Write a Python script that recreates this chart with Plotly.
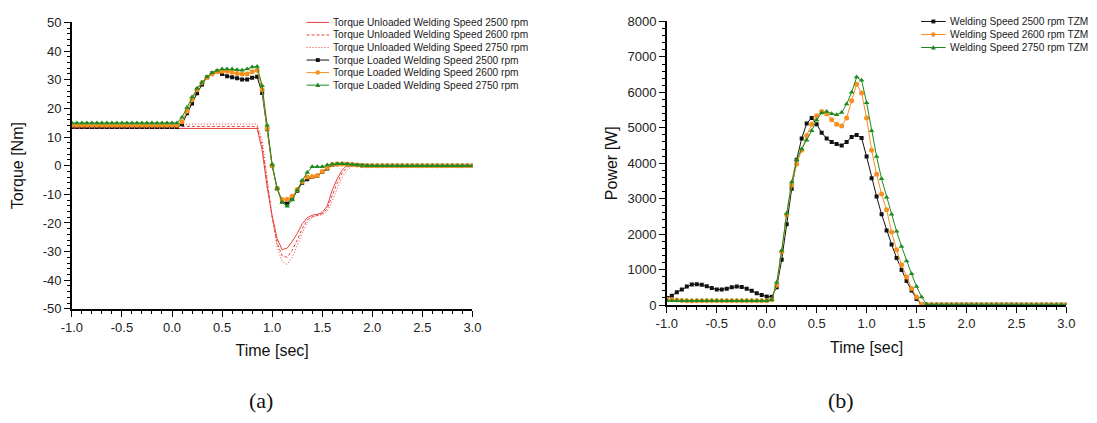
import plotly.graph_objects as go

W, H = 1097, 423

# Time samples (sec), 0.05 s spacing from -1.0 to 3.0
time_s = [round(-1.0 + 0.05 * i, 2) for i in range(81)]

# ---- (a) Torque [Nm] ----
torque_unloaded_2500 = [
    13.0, 13.0, 13.0, 13.0, 13.0, 13.0, 13.0, 13.0, 13.0, 13.0,
    13.0, 13.0, 13.0, 13.0, 13.0, 13.0, 13.0, 13.0, 13.0, 13.0,
    13.0, 13.0, 13.0, 13.0, 13.0, 13.0, 13.0, 13.0, 13.0, 13.0,
    13.0, 13.0, 13.0, 13.0, 13.0, 13.0, 13.0, 13.0,
    5.5, -7.5, -17.5, -25.5, -29.3, -28.8, -26.5, -23.7, -20.3, -18.2,
    -17.3, -17.0, -16.4, -14.0, -8.6, -4.5, -1.5, 0.3, 0.5, 0.5, 0.4, 0.2,
    0.0, 0.0, 0.0, 0.0, 0.0, 0.0, 0.0, 0.0, 0.0, 0.0,
    0.0, 0.0, 0.0, 0.0, 0.0, 0.0, 0.0, 0.0, 0.0, 0.0, 0.0,
]
torque_unloaded_2600 = [
    13.7, 13.7, 13.7, 13.7, 13.7, 13.7, 13.7, 13.7, 13.7, 13.7,
    13.7, 13.7, 13.7, 13.7, 13.7, 13.7, 13.7, 13.7, 13.7, 13.7,
    13.7, 13.7, 13.7, 13.7, 13.7, 13.7, 13.7, 13.7, 13.7, 13.7,
    13.7, 13.7, 13.7, 13.7, 13.7, 13.7, 13.7, 13.7,
    7.0, -6.5, -18.0, -27.0, -31.5, -32.0, -29.5, -26.0, -22.0, -19.0,
    -17.8, -17.3, -16.8, -15.0, -10.5, -6.0, -2.5, -0.5, 0.3, 0.3, 0.2, 0.1,
    0.0, 0.0, 0.0, 0.0, 0.0, 0.0, 0.0, 0.0, 0.0, 0.0,
    0.0, 0.0, 0.0, 0.0, 0.0, 0.0, 0.0, 0.0, 0.0, 0.0, 0.0,
]
torque_unloaded_2750 = [
    14.5, 14.5, 14.5, 14.5, 14.5, 14.5, 14.5, 14.5, 14.5, 14.5,
    14.5, 14.5, 14.5, 14.5, 14.5, 14.5, 14.5, 14.5, 14.5, 14.5,
    14.5, 14.5, 14.5, 14.5, 14.5, 14.5, 14.5, 14.5, 14.5, 14.5,
    14.5, 14.5, 14.5, 14.5, 14.5, 14.5, 14.5, 14.5,
    9.0, -5.0, -18.0, -28.5, -33.5, -34.5, -32.0, -28.0, -23.5, -20.0,
    -18.2, -17.5, -17.0, -16.0, -12.5, -8.0, -4.0, -1.5, 0.0, 0.3, 0.2, 0.1,
    0.0, 0.0, 0.0, 0.0, 0.0, 0.0, 0.0, 0.0, 0.0, 0.0,
    0.0, 0.0, 0.0, 0.0, 0.0, 0.0, 0.0, 0.0, 0.0, 0.0, 0.0,
]
torque_loaded_2500 = [
    13.5, 13.5, 13.5, 13.5, 13.5, 13.5, 13.5, 13.5, 13.5, 13.5, 13.5,
    13.5, 13.5, 13.5, 13.5, 13.5, 13.5, 13.5, 13.5, 13.5, 13.5, 13.5,
    14.5, 18.3, 21.7, 25.3, 28.3, 30.9, 32.2, 32.9, 32.0, 31.2,
    30.9, 30.5, 30.1, 30.1, 30.7, 31.0, 25.4, 12.7, 0.0, -8.0,
    -12.5, -13.2, -11.5, -8.8, -6.0, -4.7, -4.0, -3.6, -2.2, -1.0,
    0.2, 0.5, 0.6, 0.5, 0.3, 0.2, 0.1, 0.0,
    0.0, 0.0, 0.0, 0.0, 0.0, 0.0, 0.0, 0.0, 0.0, 0.0,
    0.0, 0.0, 0.0, 0.0, 0.0, 0.0, 0.0, 0.0, 0.0, 0.0, 0.0,
]
torque_loaded_2600 = [
    14.1, 14.1, 14.1, 14.1, 14.1, 14.1, 14.1, 14.1, 14.1, 14.1, 14.1,
    14.1, 14.1, 14.1, 14.1, 14.1, 14.1, 14.1, 14.1, 14.1, 14.1, 14.1,
    15.3, 19.0, 23.0, 26.5, 29.0, 30.8, 32.0, 32.8, 33.0, 33.0,
    32.6, 32.2, 32.0, 32.0, 32.8, 33.3, 26.5, 13.0, 0.0, -8.0,
    -11.8, -11.7, -10.7, -8.3, -5.5, -4.0, -3.8, -3.4, -2.0, -0.6,
    0.4, 0.6, 0.6, 0.5, 0.3, 0.2, 0.1, 0.0,
    0.0, 0.0, 0.0, 0.0, 0.0, 0.0, 0.0, 0.0, 0.0, 0.0,
    0.0, 0.0, 0.0, 0.0, 0.0, 0.0, 0.0, 0.0, 0.0, 0.0, 0.0,
]
torque_loaded_2750 = [
    14.9, 14.9, 14.9, 14.9, 14.9, 14.9, 14.9, 14.9, 14.9, 14.9, 14.9,
    14.9, 14.9, 14.9, 14.9, 14.9, 14.9, 14.9, 14.9, 14.9, 14.9, 14.9,
    16.9, 20.3, 24.0, 27.0, 29.0, 31.0, 32.4, 33.2, 33.7, 33.7,
    33.7, 33.5, 33.3, 33.7, 34.4, 34.6, 27.9, 14.1, 0.4, -8.0,
    -12.9, -14.2, -12.0, -8.6, -5.2, -2.4, -0.4, -0.4, -0.4, 0.2,
    0.5, 0.7, 0.7, 0.6, 0.4, 0.2, 0.1, 0.0,
    0.0, 0.0, 0.0, 0.0, 0.0, 0.0, 0.0, 0.0, 0.0, 0.0,
    0.0, 0.0, 0.0, 0.0, 0.0, 0.0, 0.0, 0.0, 0.0, 0.0, 0.0,
]

# ---- (b) Power [W] ----
power_2500 = [
    200, 260, 360, 440, 520, 580, 590, 570, 530, 480,
    440, 440, 460, 500, 520, 510, 460, 400, 330, 280,
    240, 230, 500, 1280, 2280, 3280, 4100, 4700, 5120, 5280,
    5100, 4860, 4700, 4600, 4540, 4500, 4600, 4740, 4800, 4710,
    4190, 3580, 3060, 2560, 2100, 1710, 1330, 990, 680, 410,
    170, 20,
    10, 10, 10, 10, 10, 10, 10, 10, 10, 10,
    10, 10, 10, 10, 10, 10, 10, 10, 10, 10,
    10, 10, 10, 10, 10, 10, 10, 10, 10,
]
power_2600 = [
    160, 150, 140, 130, 120, 115, 120, 120, 120, 120,
    120, 120, 120, 120, 120, 120, 120, 120, 120, 120,
    120, 150, 560, 1500, 2550, 3380, 3980, 4370, 4780, 5100,
    5340, 5460, 5400, 5230, 5100, 5050, 5280, 5760, 6230, 5980,
    5280, 4370, 3690, 3130, 2690, 2060, 1560, 1140, 790, 470,
    230, 20,
    10, 10, 10, 10, 10, 10, 10, 10, 10, 10,
    10, 10, 10, 10, 10, 10, 10, 10, 10, 10,
    10, 10, 10, 10, 10, 10, 10, 10, 10,
]
power_2750 = [
    120, 120, 120, 120, 120, 120, 120, 120, 120, 120,
    120, 120, 120, 120, 120, 120, 120, 120, 120, 120,
    120, 150, 640, 1540, 2590, 3470, 4100, 4400, 4650, 4920,
    5220, 5420, 5460, 5400, 5370, 5430, 5670, 6000, 6430, 6340,
    5710, 4920, 4190, 3560, 3040, 2560, 2080, 1650, 1240, 880,
    520, 230, 20,
    10, 10, 10, 10, 10, 10, 10, 10, 10, 10,
    10, 10, 10, 10, 10, 10, 10, 10, 10, 10,
    10, 10, 10, 10, 10, 10, 10, 10,
]

# Axis ticks
time_ticks = [-1.0, -0.5, 0.0, 0.5, 1.0, 1.5, 2.0, 2.5, 3.0]
time_labels = ["-1.0", "-0.5", "0.0", "0.5", "1.0", "1.5", "2.0", "2.5", "3.0"]
torque_ticks = [-50, -40, -30, -20, -10, 0, 10, 20, 30, 40, 50]
torque_labels = ["-50", "-40", "-30", "-20", "-10", "0", "10", "20", "30", "40", "50"]
power_ticks = [0, 1000, 2000, 3000, 4000, 5000, 6000, 7000, 8000]
power_labels = ["0", "1000", "2000", "3000", "4000", "5000", "6000", "7000", "8000"]

torque_names = [
    "Torque Unloaded Welding Speed 2500 rpm",
    "Torque Unloaded Welding Speed 2600 rpm",
    "Torque Unloaded Welding Speed 2750 rpm",
    "Torque Loaded Welding Speed 2500 rpm",
    "Torque Loaded Welding Speed 2600 rpm",
    "Torque Loaded Welding Speed 2750 rpm",
]
power_names = [
    "Welding Speed 2500 rpm TZM",
    "Welding Speed 2600 rpm TZM",
    "Welding Speed 2750 rpm TZM",
]

RED = "#e8413f"
BLACK = "#111111"
ORANGE = "#f7901e"
GREEN = "#1f8a1f"
FONT = "Liberation Sans"
DASH = "3px,2px"
DOT = "1px,2px"


def px(x):
    return x / W


def py(y):
    return 1 - y / H


fig = go.Figure()

unloaded = [torque_unloaded_2500, torque_unloaded_2600, torque_unloaded_2750]
dashes = ["solid", DASH, DOT]
for vals, d, name in zip(unloaded, dashes, torque_names[:3]):
    fig.add_trace(go.Scatter(x=time_s, y=vals, mode="lines", name=name,
                             line=dict(color=RED, width=1, dash=d),
                             xaxis="x", yaxis="y", showlegend=False))

loaded = [torque_loaded_2500, torque_loaded_2600, torque_loaded_2750]
styles = [(BLACK, "square", 4), (ORANGE, "circle", 5), (GREEN, "triangle-up", 5)]
for vals, (c, sym, sz), name in zip(loaded, styles, torque_names[3:]):
    fig.add_trace(go.Scatter(x=time_s, y=vals, mode="lines+markers", name=name,
                             line=dict(color=c, width=1),
                             marker=dict(color=c, symbol=sym, size=sz),
                             xaxis="x", yaxis="y", showlegend=False))

power = [power_2500, power_2600, power_2750]
for vals, (c, sym, sz), name in zip(power, styles, power_names):
    fig.add_trace(go.Scatter(x=time_s, y=vals, mode="lines+markers", name=name,
                             line=dict(color=c, width=1),
                             marker=dict(color=c, symbol=sym, size=sz),
                             xaxis="x2", yaxis="y2", showlegend=False))

tickfont = dict(family=FONT, size=13, color="#222")
titlefont = dict(family=FONT, size=16, color="#111")


def xaxis_cfg(dom, anchor):
    return dict(domain=dom, anchor=anchor, range=[-1, 3], tickmode="array",
                tickvals=time_ticks, ticktext=time_labels, ticks="outside",
                ticklen=6, tickwidth=1.2, tickcolor="black",
                minor=dict(tickmode="linear", tick0=-1, dtick=0.1, ticks="outside",
                           ticklen=3, tickwidth=1, tickcolor="black"),
                showline=True, linecolor="black", linewidth=1.5, showgrid=False,
                zeroline=False, tickfont=tickfont,
                title=dict(text="Time [sec]", font=titlefont, standoff=11))


def yaxis_cfg(dom, anchor, rng, vals, labels, minor_dt, title, standoff):
    return dict(domain=dom, anchor=anchor, range=rng, tickmode="array",
                tickvals=vals, ticktext=labels, ticks="outside", ticklen=6,
                tickwidth=1.2, tickcolor="black",
                minor=dict(tickmode="linear", tick0=rng[0], dtick=minor_dt,
                           ticks="outside", ticklen=3, tickwidth=1, tickcolor="black"),
                showline=True, linecolor="black", linewidth=1.5, showgrid=False,
                zeroline=False, tickfont=tickfont,
                title=dict(text=title, font=titlefont, standoff=standoff))


fig.update_layout(
    width=W, height=H, margin=dict(l=0, r=0, t=0, b=0),
    paper_bgcolor="white", plot_bgcolor="white", showlegend=False,
    xaxis=xaxis_cfg([px(62), px(470)], "y"),
    yaxis=yaxis_cfg([py(313), py(16)], "x", [-50, 50], torque_ticks,
                    torque_labels, 2, "Torque [Nm]", 15),
    xaxis2=xaxis_cfg([px(668), px(1075)], "y2"),
    yaxis2=yaxis_cfg([py(309), py(15)], "x2", [0, 8000], power_ticks,
                     power_labels, 200, "Power [W]", 6),
)

# Legend entries drawn as line samples, symbols and text
shapes = []
annotations = []


def legend_entry(x0, x1, y, color, dash, sym, label):
    shapes.append(dict(type="line", xref="paper", yref="paper",
                       x0=px(x0), x1=px(x1), y0=py(y), y1=py(y),
                       line=dict(color=color, width=1, dash=dash)))
    xm = (x0 + x1) / 2
    if sym == "square":
        shapes.append(dict(type="rect", xref="paper", yref="paper",
                           x0=px(xm - 2), x1=px(xm + 2), y0=py(y + 2), y1=py(y - 2),
                           fillcolor=color, line=dict(width=0)))
    elif sym == "circle":
        shapes.append(dict(type="circle", xref="paper", yref="paper",
                           x0=px(xm - 2.3), x1=px(xm + 2.3), y0=py(y + 2.3), y1=py(y - 2.3),
                           fillcolor=color, line=dict(width=0)))
    elif sym == "triangle":
        path = "M {} {} L {} {} L {} {} Z".format(
            px(xm - 2.6), py(y + 2), px(xm + 2.6), py(y + 2), px(xm), py(y - 2.6))
        shapes.append(dict(type="path", xref="paper", yref="paper", path=path,
                           fillcolor=color, line=dict(width=0)))
    annotations.append(dict(xref="paper", yref="paper", x=px(x1 + 2), y=py(y),
                            xanchor="left", yanchor="middle", showarrow=False,
                            text=label, font=dict(family=FONT, size=10.2, color="#222")))


leg_a = [(RED, "solid", None), (RED, DASH, None), (RED, DOT, None),
         (BLACK, "solid", "square"), (ORANGE, "solid", "circle"),
         (GREEN, "solid", "triangle")]
for i, ((c, d, s), name) in enumerate(zip(leg_a, torque_names)):
    legend_entry(301, 324, 16 + 13 * i, c, d, s, name)

leg_b = [(BLACK, "solid", "square"), (ORANGE, "solid", "circle"),
         (GREEN, "solid", "triangle")]
for i, ((c, d, s), name) in enumerate(zip(leg_b, power_names)):
    legend_entry(927, 952, 15 + 13.5 * i, c, d, s, name)

for lbl, xc in (("(a)", 255), ("(b)", 845)):
    annotations.append(dict(xref="paper", yref="paper", x=px(xc), y=py(408),
                            xanchor="center", yanchor="middle", showarrow=False,
                            text=lbl, font=dict(family="Liberation Serif", size=22,
                                                color="#111")))

fig.update_layout(shapes=shapes, annotations=annotations)
fig.write_html("out.html")
